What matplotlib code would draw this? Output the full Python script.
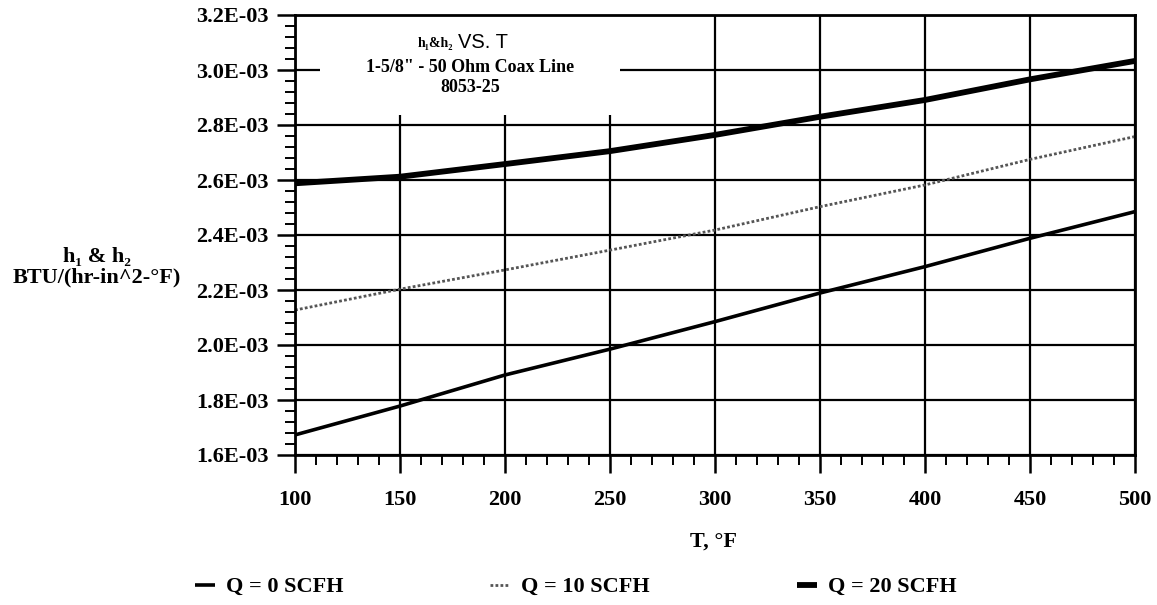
import matplotlib
matplotlib.use("Agg")
import matplotlib.pyplot as plt
from matplotlib.ticker import MultipleLocator, FuncFormatter
from matplotlib.patches import Rectangle

# ---- data ----
T = [100, 150, 200, 250, 300, 350, 400, 450, 500]
h_q0 = [1.673e-3, 1.778e-3, 1.891e-3, 1.985e-3, 2.085e-3, 2.189e-3, 2.285e-3, 2.388e-3, 2.485e-3]
h_q10 = [2.127e-3, 2.203e-3, 2.273e-3, 2.345e-3, 2.418e-3, 2.503e-3, 2.582e-3, 2.675e-3, 2.758e-3]
h_q20 = [2.588e-3, 2.612e-3, 2.658e-3, 2.705e-3, 2.764e-3, 2.830e-3, 2.891e-3, 2.966e-3, 3.033e-3]
series_labels = ["Q = 0 SCFH", "Q = 10 SCFH", "Q = 20 SCFH"]
x_ticks = [100, 150, 200, 250, 300, 350, 400, 450, 500]
title_lines = ["1-5/8\" - 50 Ohm Coax Line", "8053-25"]

SERIF = ["Liberation Serif", "DejaVu Serif"]
plt.rcParams["font.family"] = SERIF
plt.rcParams["font.weight"] = "bold"

W, H = 1157, 605
fig = plt.figure(figsize=(W / 100, H / 100), dpi=100)
ax = fig.add_axes([295 / W, 1 - 455 / H, 840 / W, 440 / H])

ax.set_xlim(100, 500)
ax.set_ylim(1.6e-3, 3.2e-3)
ax.set_xticks(x_ticks)
ax.xaxis.set_minor_locator(MultipleLocator(10))
ax.yaxis.set_major_locator(MultipleLocator(0.2e-3))
ax.yaxis.set_minor_locator(MultipleLocator(0.04e-3))
ax.yaxis.set_major_formatter(FuncFormatter(lambda v, p: f"{v:.1E}"))

ax.set_axisbelow(True)
ax.grid(True, which="major", color="black", linewidth=1.6)

for s in ax.spines.values():
    s.set_linewidth(2.0)
    s.set_zorder(5)

ax.tick_params(axis="both", which="major", direction="out", length=13, width=1.8,
               labelsize=16, pad=6, color="black")
ax.tick_params(axis="both", which="minor", direction="out", length=7, width=1.4)
ax.tick_params(axis="x", which="major", pad=12)
ax.tick_params(axis="x", which="both", top=False)
for lbl in ax.get_xticklabels() + ax.get_yticklabels():
    lbl.set_fontweight("bold")

# white box behind the title (covers the grid there)
ax.add_patch(Rectangle((25 / 840, (455 - 115) / 440), 300 / 840, 115 / 440,
                       transform=ax.transAxes, facecolor="white", edgecolor="none",
                       zorder=1))

l0, = ax.plot(T, h_q0, color="black", linewidth=2.6, solid_capstyle="butt", zorder=3)
l1, = ax.plot(T, h_q10, color="#555555", linewidth=2.0, linestyle=(0, (1, 0.8)), zorder=3)
l2, = ax.plot(T, h_q20, color="black", linewidth=4.2, solid_capstyle="butt", zorder=3)

# title inside plot
cx = (470 - 295) / 840
ax.text((453 - 295) / 840, (455 - 43) / 440, "h\u2081&h\u2082", transform=ax.transAxes,
        ha="right", va="center", fontsize=10, fontweight="bold", family=SERIF, zorder=6)
ax.text((458 - 295) / 840, (455 - 43) / 440, "VS. T", transform=ax.transAxes,
        ha="left", va="center", fontsize=14.5, fontweight="normal",
        family=["Liberation Sans", "DejaVu Sans"], zorder=6)
ax.text(cx, (455 - 67) / 440, title_lines[0], transform=ax.transAxes,
        ha="center", va="center", fontsize=13, fontweight="bold", zorder=6)
ax.text(cx, (455 - 87) / 440, title_lines[1], transform=ax.transAxes,
        ha="center", va="center", fontsize=13, fontweight="bold", zorder=6)

# axis labels
fig.text(97 / W, 1 - 257 / H, "h\u2081 & h\u2082", ha="center", va="center",
         fontsize=16, fontweight="bold")
fig.text(97 / W, 1 - 277 / H, "BTU/(hr-in^2-\u00b0F)", ha="center", va="center",
         fontsize=16, fontweight="bold")
fig.text(713 / W, 1 - 542 / H, "T, \u00b0F", ha="center", va="center",
         fontsize=16, fontweight="bold")

leg = fig.legend([l0, l1, l2], series_labels, loc="center left",
                 bbox_to_anchor=(195 / W, 1 - 587 / H), ncol=3, frameon=False,
                 fontsize=16, handlelength=0.9, handletextpad=0.5,
                 columnspacing=6.6, borderpad=0, borderaxespad=0)
for t in leg.get_texts():
    t.set_fontweight("bold")

fig.savefig("out.png", dpi=100, facecolor="white")
